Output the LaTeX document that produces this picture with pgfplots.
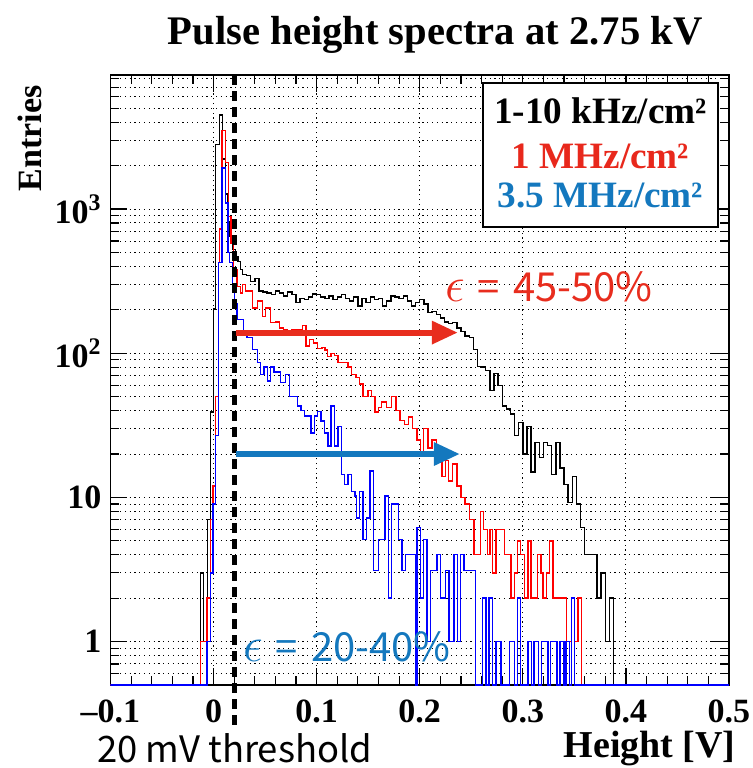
\documentclass[border=0pt]{standalone}
\usepackage{fontspec}
\setmainfont{Liberation Serif}
\newfontfamily\jpsans{Noto Sans CJK JP}
\usepackage{pgfplots}
\pgfplotsset{compat=1.18}
\usetikzlibrary{arrows.meta}
\definecolor{legred}{RGB}{232,40,28}
\definecolor{legblue}{RGB}{20,120,190}
\definecolor{arrred}{RGB}{232,45,30}
\definecolor{arrblue}{RGB}{20,120,190}
\begin{document}
\begin{tikzpicture}[x=1pt,y=1pt]
\useasboundingbox (-55.25,-41.5) rectangle (321.25,342.5);
\begin{axis}[
  at={(0,0)}, anchor=south west,
  scale only axis, width=309.25pt, height=305pt,
  xmin=-0.1, xmax=0.5, ymode=log, ymin=0.5, ymax=8500,
  clip mode=individual,
  axis line style={line width=0.8pt},
  xtick={-0.1,0,0.1,0.2,0.3,0.4,0.5},
  xticklabels={\textbf{--0.1},\textbf{0},\textbf{0.1},\textbf{0.2},\textbf{0.3},\textbf{0.4},\textbf{0.5}},
  minor x tick num=4,
  ytick={1,10,100,1000},
  yticklabels={\textbf{1},\textbf{10},\textbf{10\textsuperscript{2}},\textbf{10\textsuperscript{3}}},
  minor ytick={0.6,0.7,0.8,0.9,2,3,4,5,6,7,8,9,20,30,40,50,60,70,80,90,200,300,400,500,600,700,800,900,2000,3000,4000,5000,6000,7000,8000},
  major tick length=8.5pt, minor tick length=4.5pt,
  tick style={black, line width=0.6pt},
  tick align=inside,
  xmajorgrids, ymajorgrids, yminorgrids,
  grid style={black, line width=0.5pt, dash pattern=on 0.6pt off 1.8pt},
  minor grid style={black, line width=0.5pt, dash pattern=on 0.6pt off 1.8pt},
  ticklabel style={font=\fontsize{17}{17}\selectfont},
  xticklabel style={anchor=base, yshift=-18.5pt},
  yticklabel style={anchor=east, xshift=-1pt},
]
\addplot[const plot, black, line width=0.7pt] table {
-0.1 0.5
-0.0127 3
-0.010 1
-0.006 7
-0.003 39
0.000 203
0.002 2800
0.0055 4500
0.0088 2220
0.0114 1270
0.014 820
0.016 646
0.0186 525
0.021 470
0.0235 434
0.026 381
0.028 350
0.032 345
0.036 315
0.040 330
0.044 270
0.048 265
0.052 262
0.056 255
0.060 270
0.064 262
0.068 250
0.072 265
0.076 255
0.080 224
0.084 240
0.088 235
0.092 245
0.096 258
0.100 255
0.104 245
0.108 240
0.112 250
0.116 235
0.120 245
0.124 255
0.128 240
0.132 230
0.136 245
0.140 212
0.144 240
0.148 225
0.152 245
0.156 235
0.160 240
0.164 212
0.168 230
0.172 250
0.176 245
0.180 240
0.184 250
0.188 230
0.192 212
0.196 225
0.200 235
0.204 220
0.208 191
0.212 195
0.216 185
0.220 175
0.224 165
0.228 160
0.232 163
0.236 150
0.240 142
0.244 132
0.248 128
0.252 106
0.256 81
0.260 80
0.264 76
0.268 55
0.272 72
0.276 60
0.280 43
0.284 41
0.288 38
0.292 27
0.296 33
0.300 20
0.304 31
0.308 15
0.312 24
0.316 19
0.320 24
0.324 23
0.328 14.4
0.332 24
0.336 16
0.340 12.3
0.344 9.2
0.348 14
0.352 9
0.356 6.2
0.360 4
0.372 2
0.376 3
0.380 1
0.384 2
0.388 0.5
0.5 0.5
};
\addplot[const plot, red, line width=0.7pt] table {
-0.1 0.5
-0.0127 1
-0.0065 2
-0.003 7
-0.0007 12
0.002 50
0.0045 424
0.0055 725
0.0082 3500
0.0114 2100
0.0144 890
0.017 582
0.0195 380
0.0228 291
0.026 262
0.028 300
0.031 270
0.0375 206
0.0424 230
0.0473 180
0.0505 206
0.0554 163
0.060 165
0.064 150
0.068 146
0.072 140
0.076 146
0.080 146
0.0864 155
0.0896 112
0.0929 125
0.097 118
0.101 108
0.105 110
0.108 105
0.1108 95
0.114 100
0.1175 96
0.1206 86
0.125 86
0.1304 80
0.1337 71
0.138 68
0.1418 61
0.145 50
0.1499 55
0.153 50
0.1565 39
0.160 42
0.163 46
0.168 42
0.1728 50
0.177 40
0.181 34
0.185 32
0.1891 36
0.193 30
0.1972 25
0.2005 20
0.2038 30
0.208 22
0.212 25
0.216 20
0.2216 14
0.225 18
0.228 13
0.232 17
0.236 12
0.240 10
0.244 9
0.248 7
0.2526 4
0.256 4
0.259 8
0.262 6
0.2656 4
0.268 6
0.2705 3
0.274 6
0.2787 6
0.282 4
0.2855 4
0.2884 2
0.2917 3
0.295 5
0.298 4
0.3015 2
0.305 5
0.308 2
0.3113 2
0.3145 4
0.3178 3
0.3194 2
0.3227 3
0.326 5
0.3292 2
0.3325 2
0.336 2
0.3422 1
0.3472 2
0.3504 1
0.3537 2
0.357 0.5
0.5 0.5
};
\addplot[const plot, blue, line width=0.7pt] table {
-0.1 0.5
-0.0065 1
-0.0032 3
-0.0007 9
0.002 27
0.0049 424
0.0082 1930
0.0114 1100
0.0140 498
0.0156 424
0.0183 291
0.0205 220
0.0228 171
0.0293 135
0.0326 128
0.0375 106
0.0424 86
0.0456 71
0.0489 80
0.0522 64
0.0554 80
0.0587 74
0.0652 62.5
0.070 71
0.0734 50
0.0815 43
0.0848 40
0.088 36.6
0.0946 28
0.0978 36.6
0.1011 39.6
0.1044 33.8
0.1076 28
0.1109 22.7
0.1141 43
0.1174 22.7
0.1206 31
0.1239 14.4
0.1272 12.3
0.1304 14.4
0.1337 11
0.137 10.2
0.1386 7.2
0.1418 11
0.1451 5.1
0.1484 7.2
0.1516 15.2
0.1549 3.1
0.1598 5.1
0.1663 10.2
0.1696 2
0.1728 9
0.1793 5.1
0.1826 3.1
0.1859 4
0.1956 0.5
0.1973 6.2
0.2005 2
0.2038 5.1
0.207 1
0.2103 3.1
0.2168 4
0.2201 2
0.225 3.1
0.2282 1
0.2331 4
0.2364 1
0.2397 4
0.2429 3.1
0.2543 0.5
0.2608 2
0.2641 0.5
0.2673 2
0.2706 0.5
0.274 1
0.279 0.5
0.287 1
0.292 0.5
0.295 2
0.298 0.5
0.305 1
0.3085 0.5
0.311 1
0.315 0.5
0.318 1
0.3245 0.5
0.327 1
0.333 0.5
0.336 1
0.340 0.5
0.342 1
0.345 0.5
0.347 2
0.350 0.5
0.5 0.5
};
% threshold line
\draw[black, line width=2.5pt, dash pattern=on 5pt off 3pt] (axis cs:0.02,8500) -- ([yshift=-20pt]axis cs:0.02,0.5);
% arrows
\draw[arrred, line width=3pt, -{Triangle[length=13pt,width=11pt]}] (axis cs:0.0217,139) -- (axis cs:0.237,139);
\draw[arrblue, line width=3pt, -{Triangle[length=13pt,width=11pt]}] (axis cs:0.0217,20) -- (axis cs:0.239,20);
% annotations
\node[anchor=base west, inner sep=0, text=arrred, font=\jpsans\fontsize{20}{21}\selectfont] at (rel axis cs:0.5408,0.628) {{\fontsize{26}{26}\selectfont$\epsilon$}\hspace{6pt}=\hspace{7pt}45-50\%};
\node[anchor=base west, inner sep=0, text=arrblue, font=\jpsans\fontsize{20}{21}\selectfont] at (rel axis cs:0.2142,0.0393) {{\fontsize{26}{26}\selectfont$\epsilon$}\hspace{6pt}=\hspace{7pt}20-40\%};
% legend
\draw[line width=1pt, fill=white] (rel axis cs:0.6018,0.7513) rectangle (rel axis cs:0.9822,0.9864);
\node[anchor=base, inner sep=0, font=\fontsize{18.6}{20}\selectfont\bfseries] at (rel axis cs:0.792,0.9197) {1-10 kHz/cm²};
\node[anchor=base, inner sep=0, text=legred, font=\fontsize{18.6}{20}\selectfont\bfseries] at (rel axis cs:0.792,0.8475) {1 MHz/cm²};
\node[anchor=base, inner sep=0, text=legblue, font=\fontsize{18.6}{20}\selectfont\bfseries] at (rel axis cs:0.792,0.782) {3.5 MHz/cm²};
% title and axis labels
\node[anchor=base, inner sep=0, font=\fontsize{20.3}{22}\selectfont\bfseries] at ([yshift=15.5pt]rel axis cs:0.525,1) {Pulse height spectra at 2.75 kV};
\node[anchor=base east, inner sep=0, font=\fontsize{19}{20}\selectfont\bfseries] at ([xshift=3.5pt,yshift=-36pt]rel axis cs:1,0) {Height [V]};
\node[rotate=90, anchor=base east, inner sep=0, font=\fontsize{17}{20}\selectfont\bfseries] at ([xshift=-34.25pt,yshift=-5pt]rel axis cs:0,1) {Entries};
\node[anchor=base west, inner sep=0, font=\jpsans\fontsize{18.2}{19}\selectfont] at ([xshift=-6.75pt,yshift=-38.5pt]rel axis cs:0,0) {20 mV threshold};
\end{axis}
\end{tikzpicture}
\end{document}
